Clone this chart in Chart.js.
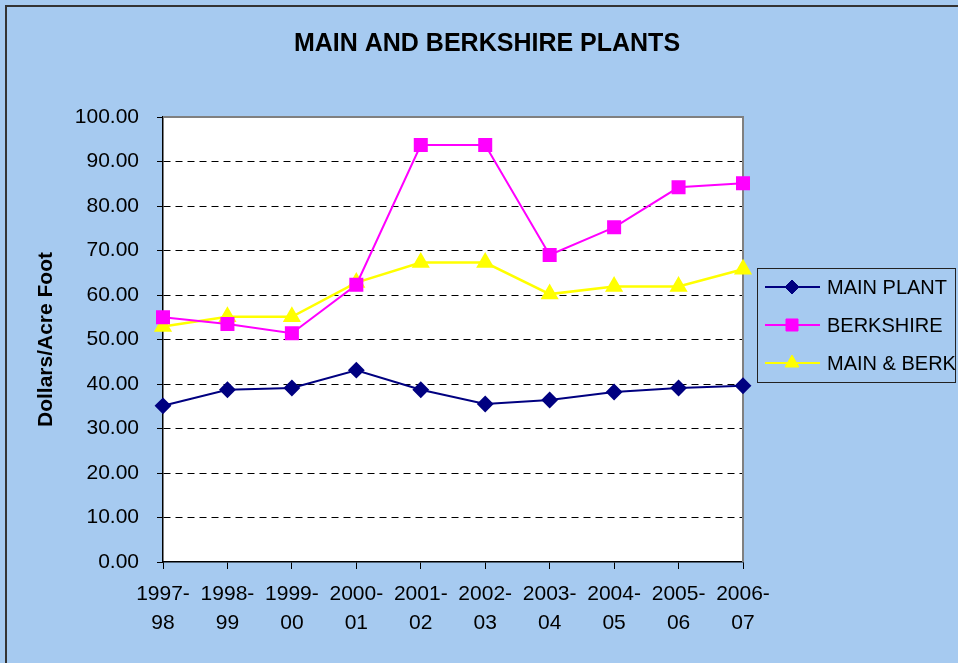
<!DOCTYPE html>
<html>
<head>
<meta charset="utf-8">
<title>Main and Berkshire Plants</title>
<script src="https://cdn.jsdelivr.net/npm/chart.js@4/dist/chart.umd.min.js"></script>
<style>
  body { margin: 0; background: #a6caf0; }
  canvas { display: block; }
</style>
</head>
<body>
<canvas id="myChart" width="958" height="663"></canvas>
<script>
// data
var categories = ['1997-98', '1998-99', '1999-00', '2000-01', '2001-02',
                  '2002-03', '2003-04', '2004-05', '2005-06', '2006-07'];
var mainPlant = [35.1, 38.7, 39.1, 43.1, 38.7, 35.5, 36.4, 38.2, 39.1, 39.6];
var berkshire = [55.0, 53.5, 51.4, 62.3, 93.7, 93.7, 69.0, 75.2, 84.2, 85.1];
var mainBerk  = [52.9, 55.1, 55.1, 62.8, 67.3, 67.3, 60.2, 61.9, 61.9, 65.8];
var yTickLabels = ['0.00', '10.00', '20.00', '30.00', '40.00', '50.00',
                   '60.00', '70.00', '80.00', '90.00', '100.00'];

var FONT = "'Liberation Sans', Arial, sans-serif";
Chart.defaults.color = '#000';
Chart.defaults.font.family = FONT;

// background, outer frame and white plot area
var backgroundPlugin = {
  id: 'background',
  beforeDraw: function (chart) {
    var ctx = chart.ctx, a = chart.chartArea;
    ctx.save();
    ctx.fillStyle = '#a6caf0';
    ctx.fillRect(0, 0, chart.width, chart.height);
    ctx.strokeStyle = '#333';
    ctx.lineWidth = 2;
    ctx.strokeRect(6, 6, chart.width + 20, chart.height + 20);
    ctx.fillStyle = '#fff';
    ctx.fillRect(a.left, a.top, a.right - a.left, a.bottom - a.top);
    ctx.restore();
  },
  beforeDatasetsDraw: function (chart) {
    var ctx = chart.ctx, a = chart.chartArea;
    ctx.save();
    ctx.strokeStyle = '#808080';
    ctx.lineWidth = 2;
    ctx.beginPath();
    ctx.moveTo(a.left, a.top);
    ctx.lineTo(a.right, a.top);
    ctx.lineTo(a.right, a.bottom);
    ctx.stroke();
    ctx.restore();
  }
};

// legend box on the right with line + marker samples
var legendPlugin = {
  id: 'sideLegend',
  afterDraw: function (chart) {
    var ctx = chart.ctx;
    ctx.save();
    ctx.strokeStyle = '#222';
    ctx.lineWidth = 1;
    ctx.strokeRect(757.5, 268.5, 198, 114);
    ctx.font = '20px ' + FONT;
    ctx.textBaseline = 'middle';
    ctx.textAlign = 'left';
    chart.data.datasets.forEach(function (ds, i) {
      var y = 287 + i * 38;
      ctx.strokeStyle = ds.borderColor;
      ctx.lineWidth = 2;
      ctx.beginPath();
      ctx.moveTo(765, y);
      ctx.lineTo(820, y);
      ctx.stroke();
      ctx.fillStyle = ds.pointBackgroundColor;
      ctx.strokeStyle = ds.pointBorderColor;
      ctx.lineWidth = 1;
      Chart.helpers.drawPoint(ctx, {
        pointStyle: ds.pointStyle, radius: ds.pointRadius, rotation: 0, borderWidth: 1
      }, 792, y);
      ctx.fillStyle = '#000';
      ctx.fillText(ds.label, 827, y + 1);
    });
    ctx.restore();
  }
};

new Chart(document.getElementById('myChart'), {
  type: 'line',
  data: {
    labels: categories.map(function (c) { return [c.slice(0, 5), c.slice(5)]; }),
    datasets: [
      {
        label: 'MAIN PLANT',
        data: mainPlant,
        borderColor: '#000080',
        backgroundColor: '#000080',
        pointBackgroundColor: '#000080',
        pointBorderColor: '#000080',
        pointStyle: 'rectRot',
        pointRadius: 7,
        borderWidth: 2
      },
      {
        label: 'BERKSHIRE',
        data: berkshire,
        borderColor: '#ff00ff',
        backgroundColor: '#ff00ff',
        pointBackgroundColor: '#ff00ff',
        pointBorderColor: '#ff00ff',
        pointStyle: 'rect',
        pointRadius: 8.5,
        borderWidth: 2
      },
      {
        label: 'MAIN & BERK',
        data: mainBerk,
        borderColor: '#ffff00',
        backgroundColor: '#ffff00',
        pointBackgroundColor: '#ffff00',
        pointBorderColor: '#ffff00',
        pointStyle: 'triangle',
        pointRadius: 8,
        borderWidth: 2.5
      }
    ]
  },
  options: {
    responsive: false,
    animation: false,
    layout: { padding: { left: 16, right: 0, top: 0, bottom: 0 } },
    plugins: {
      legend: { display: false },
      tooltip: { enabled: false },
      title: {
        display: true,
        text: 'MAIN AND BERKSHIRE PLANTS',
        font: { size: 25, weight: 'bold', family: FONT, lineHeight: 1.2 },
        padding: { top: 29, bottom: 58 },
        color: '#000'
      }
    },
    scales: {
      x: {
        offset: false,
        afterFit: function (s) { s.height = 101; },
        grid: {
          display: true,
          drawOnChartArea: false,
          tickLength: 7,
          tickColor: '#000',
          color: '#000'
        },
        border: { color: '#000', width: 1.5 },
        ticks: {
          padding: 11,
          maxRotation: 0,
          autoSkip: false,
          font: { size: 21, family: FONT, lineHeight: 1.38 },
          color: '#000'
        }
      },
      y: {
        min: 0,
        max: 100,
        afterFit: function (s) { s.width = 147; },
        grid: {
          color: function (c) {
            var v = c.tick ? c.tick.value : null;
            return (v === 0 || v === 100) ? 'rgba(0,0,0,0)' : '#000';
          },
          tickBorderDash: [],
          tickColor: '#000',
          tickLength: 6,
          lineWidth: 1
        },
        border: { color: '#000', width: 1.5, dash: [7, 5] },
        ticks: {
          stepSize: 10,
          padding: 18,
          font: { size: 21, family: FONT },
          color: '#000',
          callback: function (v, i) { return yTickLabels[i]; }
        },
        title: {
          display: true,
          text: 'Dollars/Acre Foot',
          font: { size: 21, weight: 'bold', family: FONT, lineHeight: 1.2 },
          padding: { top: 18, bottom: 0 },
          color: '#000'
        }
      },
      // empty right-hand axis that keeps room for the legend box
      yRight: {
        position: 'right',
        min: 0,
        max: 100,
        afterFit: function (s) { s.width = 215; },
        grid: { display: false, drawTicks: false },
        border: { display: false },
        ticks: { display: false }
      }
    }
  },
  plugins: [backgroundPlugin, legendPlugin]
});
</script>
</body>
</html>
